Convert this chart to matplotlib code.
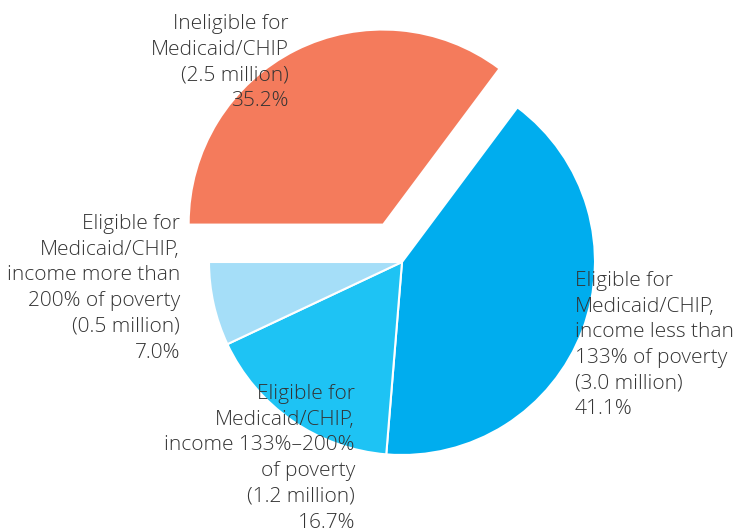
import matplotlib
matplotlib.use("Agg")
import matplotlib.pyplot as plt

plt.rcParams["font.family"] = ["Open Sans", "DejaVu Sans"]

shares = [41.1, 16.7, 7.0, 35.2]
colors = ["#00ADEE", "#1EC3F4", "#A5DEF8", "#F47B5C"]
labels = [
    "Eligible for\nMedicaid/CHIP,\nincome less than\n133% of poverty\n(3.0 million)\n41.1%",
    "Eligible for\nMedicaid/CHIP,\nincome 133%\u2013200%\nof poverty\n(1.2 million)\n16.7%",
    "Eligible for\nMedicaid/CHIP,\nincome more than\n200% of poverty\n(0.5 million)\n7.0%",
    "Ineligible for\nMedicaid/CHIP\n(2.5 million)\n35.2%",
]
explode = [0, 0, 0, 43]

fig = plt.figure(figsize=(7.37, 5.29), dpi=100)
ax = fig.add_axes([0, 0, 1, 1])
wedges, _ = ax.pie(shares, colors=colors, explode=explode, startangle=53.28,
                   counterclock=False, center=(402, 267), radius=193,
                   wedgeprops=dict(edgecolor="white", linewidth=1.5))
wedges[3].set_linewidth(0)
ax.set_xlim(0, 737)
ax.set_ylim(0, 529)
ax.axis("off")

# label placement (pixel coords, y from bottom, top of first line)
spots = [(575, 529 - 271, "left"), (355, 529 - 384, "right"),
         (180, 529 - 214, "right"), (289, 529 - 14, "right")]
for lab, (x, y, ha) in zip(labels, spots):
    ax.text(x, y, lab, ha=ha, va="top", fontsize=15, weight="light",
            color="#333333", linespacing=1.38)

fig.savefig("out.png")
